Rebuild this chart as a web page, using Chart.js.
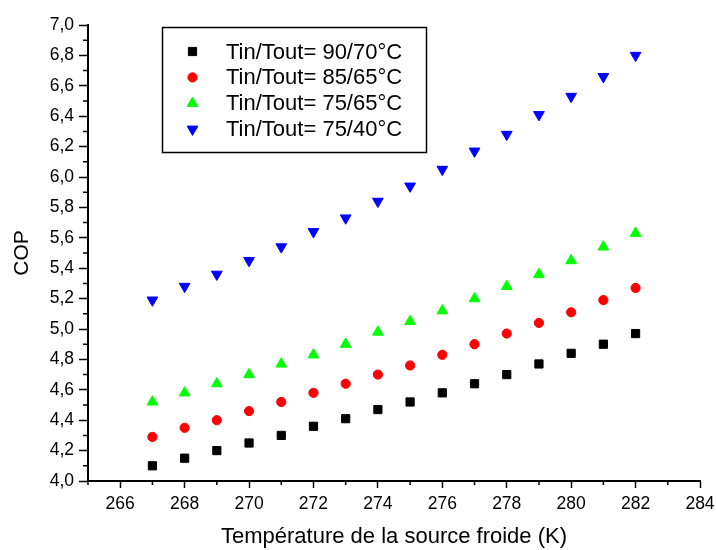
<!DOCTYPE html>
<html>
<head>
<meta charset="utf-8">
<script src="https://cdn.jsdelivr.net/npm/chart.js@4/dist/chart.umd.min.js"></script>
<style>
  html, body { margin: 0; padding: 0; background: #fff; }
</style>
</head>
<body>
<canvas id="myChart" width="716" height="550"></canvas>
<script>
// source froide temperatures (K)
const temps = [267, 268, 269, 270, 271, 272, 273, 274, 275, 276, 277, 278, 279, 280, 281, 282];

const cop9070 = [4.10, 4.15, 4.20, 4.25, 4.30, 4.36, 4.41, 4.47, 4.52, 4.58, 4.64, 4.70, 4.77, 4.84, 4.90, 4.97];
const cop8565 = [4.29, 4.35, 4.40, 4.46, 4.52, 4.58, 4.64, 4.70, 4.76, 4.83, 4.90, 4.97, 5.04, 5.11, 5.19, 5.27];
const cop7565 = [4.52, 4.58, 4.64, 4.70, 4.77, 4.83, 4.90, 4.98, 5.05, 5.12, 5.20, 5.28, 5.36, 5.45, 5.54, 5.63];
const cop7540 = [5.19, 5.28, 5.36, 5.45, 5.54, 5.64, 5.73, 5.84, 5.94, 6.05, 6.17, 6.28, 6.41, 6.53, 6.66, 6.80];

const seriesNames = ['Tin/Tout= 90/70°C', 'Tin/Tout= 85/65°C', 'Tin/Tout= 75/65°C', 'Tin/Tout= 75/40°C'];

const xTicks = [266, 268, 270, 272, 274, 276, 278, 280, 282, 284];
const yTicks = [4.0, 4.2, 4.4, 4.6, 4.8, 5.0, 5.2, 5.4, 5.6, 5.8, 6.0, 6.2, 6.4, 6.6, 6.8, 7.0];
const xMinor = [265, 267, 269, 271, 273, 275, 277, 279, 281, 283];
const yMinor = [4.1, 4.3, 4.5, 4.7, 4.9, 5.1, 5.3, 5.5, 5.7, 5.9, 6.1, 6.3, 6.5, 6.7, 6.9];

const FONT = 'Arial, "Liberation Sans", sans-serif';

function toPoints(vals) {
  return temps.map((t, i) => ({ x: t, y: vals[i] }));
}

function makeSet(label, vals, color, style, r, rot) {
  return {
    label: label,
    data: toPoints(vals),
    backgroundColor: color,
    borderColor: color,
    pointStyle: style,
    pointRadius: r,
    pointRotation: rot,
    pointBorderWidth: 1,
    showLine: false
  };
}

// minor ticks (no native support)
const minorTicks = {
  id: 'minorTicks',
  afterDraw(chart) {
    const ctx = chart.ctx;
    const sx = chart.scales.x;
    const sy = chart.scales.y;
    ctx.save();
    ctx.strokeStyle = '#000';
    ctx.lineWidth = 1.5;
    ctx.beginPath();
    xMinor.forEach(v => {
      const px = sx.getPixelForValue(v);
      ctx.moveTo(px, sx.top);
      ctx.lineTo(px, sx.top + 4);
    });
    yMinor.forEach(v => {
      const py = sy.getPixelForValue(v);
      ctx.moveTo(sy.right, py);
      ctx.lineTo(sy.right - 5, py);
    });
    ctx.stroke();
    ctx.restore();
  }
};

// boxed legend inside the plot
const boxLegend = {
  id: 'boxLegend',
  afterDraw(chart) {
    const ctx = chart.ctx;
    ctx.save();
    ctx.strokeStyle = '#000';
    ctx.lineWidth = 1.5;
    ctx.strokeRect(162.5, 27.5, 264, 125);
    ctx.font = '22px ' + FONT;
    ctx.textBaseline = 'middle';
    ctx.textAlign = 'left';
    chart.data.datasets.forEach((ds, i) => {
      const y = 51.5 + i * 25.9;
      ctx.fillStyle = ds.backgroundColor;
      ctx.strokeStyle = ds.borderColor;
      ctx.lineWidth = 1;
      Chart.helpers.drawPoint(ctx, {
        pointStyle: ds.pointStyle,
        radius: ds.pointRadius,
        rotation: ds.pointRotation,
        borderWidth: 1
      }, 192.5, y);
      ctx.fillStyle = '#000';
      ctx.fillText(ds.label, 226, y + 1);
    });
    ctx.restore();
  }
};

const ctx = document.getElementById('myChart').getContext('2d');
const myChart = new Chart(ctx, {
  type: 'scatter',
  data: {
    datasets: [
      makeSet(seriesNames[0], cop9070, '#000000', 'rect', 5.8, 0),
      makeSet(seriesNames[1], cop8565, '#ff0000', 'circle', 4.6, 0),
      makeSet(seriesNames[2], cop7565, '#00ff00', 'triangle', 6.2, 0),
      makeSet(seriesNames[3], cop7540, '#0000ff', 'triangle', 6.2, 180)
    ]
  },
  options: {
    responsive: false,
    animation: false,
    layout: { padding: { top: 25, right: 16, left: 0, bottom: 0 } },
    plugins: {
      legend: { display: false },
      tooltip: { enabled: false }
    },
    scales: {
      x: {
        type: 'linear',
        min: 265,
        max: 284,
        afterBuildTicks: s => { s.ticks = xTicks.map(v => ({ value: v })); },
        afterFit: s => { s.height = 69; s.paddingLeft = 0; s.paddingRight = 0; },
        grid: {
          drawOnChartArea: false,
          drawTicks: true,
          tickLength: 7,
          tickWidth: 1.5,
          tickColor: '#000'
        },
        border: { display: true, color: '#000', width: 2 },
        ticks: {
          color: '#000',
          padding: 6,
          maxRotation: 0,
          font: { family: FONT, size: 17.5 }
        },
        title: {
          display: true,
          text: 'Température de la source froide (K)',
          color: '#000',
          padding: { top: 0, bottom: 0 },
          font: { family: FONT, size: 22 }
        }
      },
      y: {
        type: 'linear',
        min: 4.0,
        max: 7.0,
        afterBuildTicks: s => { s.ticks = yTicks.map(v => ({ value: v })); },
        afterFit: s => { s.width = 88; },
        grid: {
          drawOnChartArea: false,
          drawTicks: true,
          tickLength: 9,
          tickWidth: 1.5,
          tickColor: '#000'
        },
        border: { display: true, color: '#000', width: 2 },
        ticks: {
          color: '#000',
          padding: 5,
          font: { family: FONT, size: 17.5 },
          callback: v => v.toFixed(1).replace('.', ',')
        },
        title: {
          display: true,
          text: 'COP',
          color: '#000',
          padding: { top: 10, bottom: 0 },
          font: { family: FONT, size: 21 }
        }
      }
    }
  },
  plugins: [minorTicks, boxLegend]
});
</script>
</body>
</html>
